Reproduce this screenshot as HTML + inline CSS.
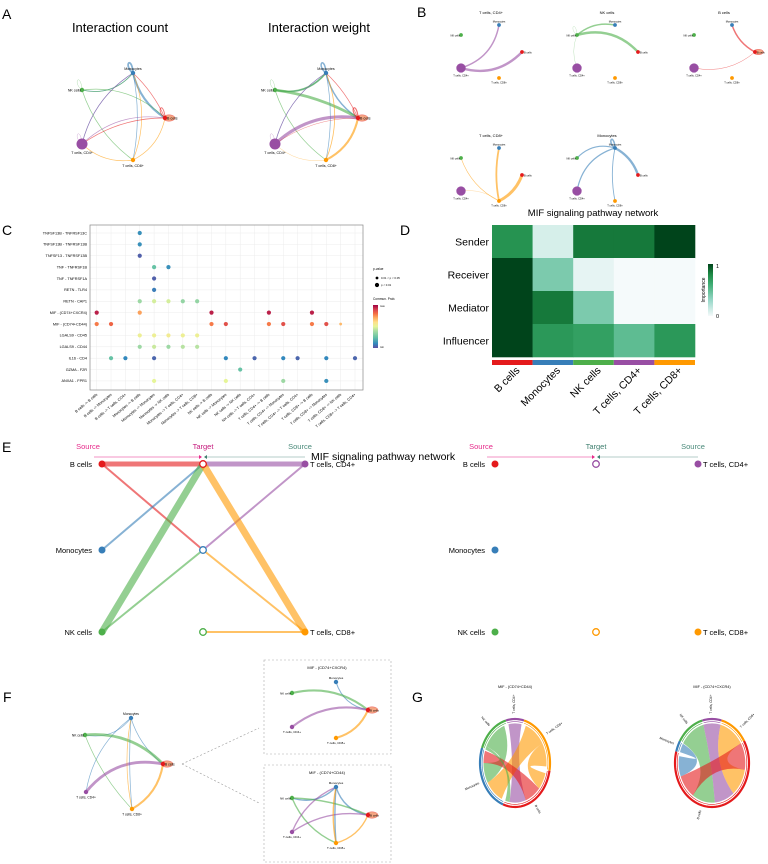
<!DOCTYPE html>
<html><head><meta charset="utf-8"><style>
html,body{margin:0;padding:0;background:#fff;}
svg{display:block;font-family:"Liberation Sans",sans-serif;}
</style></head><body>
<svg id="fig" width="768" height="864" viewBox="0 0 768 864" xmlns="http://www.w3.org/2000/svg"></svg>
<script>
// ---------- data ----------
const cellNames = ['B cells','Monocytes','NK cells','T cells, CD4+','T cells, CD8+'];
const cellKeys = ['B','M','N','C4','C8'];
const cellColors = ['#e41a1c','#377eb8','#4daf4a','#984ea3','#ff9900'];
// Panel C
const lrPairs = ['TNFSF13B - TNFRSF13C','TNFSF13B - TNFRSF13B','TNFSF13 - TNFRSF13B','TNF - TNFRSF1B','TNF - TNFRSF1A','RETN - TLR4','RETN - CAP1','MIF - (CD74+CXCR4)','MIF - (CD74+CD44)','LGALS9 - CD45','LGALS9 - CD44','IL16 - CD4','GZMA - F2R','ANXA1 - FPR1'];
const pairCols = ['B cells -> B cells','B cells -> Monocytes','B cells -> T cells, CD4+','Monocytes -> B cells','Monocytes -> Monocytes','Monocytes -> NK cells','Monocytes -> T cells, CD4+','Monocytes -> T cells, CD8+','NK cells -> B cells','NK cells -> Monocytes','NK cells -> NK cells','NK cells -> T cells, CD4+','T cells, CD4+ -> B cells','T cells, CD4+ -> Monocytes','T cells, CD4+ -> T cells, CD4+','T cells, CD8+ -> B cells','T cells, CD8+ -> Monocytes','T cells, CD8+ -> NK cells','T cells, CD8+ -> T cells, CD4+'];
const dotRow = [0,1,2,3,3,4,5,6,6,6,6,6,7,7,7,7,7,8,8,8,8,8,8,8,8,8,9,9,9,9,9,10,10,10,10,10,11,11,11,11,11,11,11,11,11,12,13,13,13,13];
const dotCol = [3,3,3,4,5,4,4,3,4,5,6,7,0,3,8,12,15,0,1,8,9,12,13,15,16,17,3,4,5,6,7,3,4,5,6,7,1,2,4,9,11,13,14,16,18,10,4,9,13,16];
const dotProb = [0.12,0.12,0.03,0.25,0.12,0.03,0.08,0.37,0.47,0.47,0.35,0.35,0.95,0.72,0.95,0.95,0.95,0.78,0.82,0.78,0.86,0.78,0.86,0.78,0.86,0.68,0.53,0.53,0.55,0.53,0.53,0.37,0.45,0.37,0.42,0.42,0.25,0.1,0.04,0.1,0.04,0.1,0.04,0.1,0.04,0.25,0.5,0.5,0.37,0.12];
const dotSig = [1,1,1,1,1,1,1,1,1,1,1,1,1,1,1,1,1,1,1,1,1,1,1,1,1,0,1,1,1,1,1,1,1,1,1,1,1,1,1,1,1,1,1,1,1,1,1,1,1,1];
// Panel D
const roles = ['Sender','Receiver','Mediator','Influencer'];
const importSender = [0.75,0.1,0.85,0.85,1.0];
const importReceiver = [1.0,0.4,0.05,0.0,0.0];
const importMediator = [1.0,0.85,0.4,0.0,0.0];
const importInfluencer = [1.0,0.72,0.68,0.5,0.72];
// Panel A edges: from,to,weight,curvature
const countEdges = [['M','N',1.2,-0.15],['M','B',3,0.1],['M','C4',1,0.1],['M','C8',1,-0.05],['M','M',3,0],['N','M',1,0.15],['N','B',1,-0.12],['N','C8',1,0.08],['N','N',0.6,0],['C4','M',1,-0.1],['C4','B',1,-0.12],['C4','C4',0.6,0],['C8','M',1,0.1],['C8','B',1,0.12],['C8','C4',1,-0.12],['B','M',1,0.05],['B','C4',1,0.08],['B','B',1.5,0]];
const weightEdges = [['M','N',1.5,-0.15],['M','B',2.2,0.1],['M','C4',1,0.1],['M','C8',1,-0.05],['M','M',2.5,0],['N','M',2.5,0.15],['N','B',4,-0.05],['N','C8',1,0.08],['N','N',0.6,0],['C4','M',1,-0.1],['C4','B',4.5,-0.12],['C4','C4',0.6,0],['C8','M',1.2,0.1],['C8','B',3,0.12],['C8','C4',0.5,-0.12],['B','M',1,0.05],['B','C4',0.6,0.08],['B','B',2,0]];
// Panel B per-source edges
const bSources = ['C4','N','B','C8','M'];
const bEdges = [
 [['C4','M',2.5,0.15],['C4','B',4,0.15]],
 [['N','M',2.5,-0.12],['N','B',4,-0.15],['N','C4',0.5,0.1],['N','N',0.5,0]],
 [['B','M',2.5,-0.1],['B','C4',0.8,-0.12]],
 [['C8','N',1,-0.1],['C8','M',3,-0.05],['C8','B',5,0.1],['C8','C4',0.5,0.1]],
 [['M','N',2,0.15],['M','B',4,-0.1],['M','C4',2,0.15],['M','C8',1.5,0.05],['M','M',3,0]]
];
// Panel E edges (hierarchy): source key, target key, width
const eEdges = [['B','B',5],['C4','B',5],['B','M',2],['M','B',2],['N','B',7],['N','M',2],['C4','M',2],['C8','B',7],['C8','M',2],['C8','N',2]];
// Panel F edges
const fEdges = [['M','N',1,-0.15],['M','B',1,0.08],['M','C8',1,0.02],['M','C4',1,0.1],['N','B',4,-0.12],['N','C8',1,0.05],['C4','B',4,-0.15],['C8','B',3,0.12],['C8','M',1,-0.05]];
const fEdgesCXCR4 = [['M','B',1.5,0.15],['N','B',3,-0.12],['C4','B',3,-0.12],['C8','B',3,0.12]];
const fEdgesCD44 = [['M','N',2,-0.15],['M','B',2,0.15],['M','C8',2,0.02],['N','B',2,-0.05],['N','C8',2,0.1],['C4','M',2,-0.1],['C4','B',2,-0.1],['C8','M',2,-0.05],['C8','B',2,0.12]];
// Panel G chord sectors (start angle, end angle, cell) and ribbons
const chordSegs1=[[200,290,'M'],[290,345,'N'],[345,375,'C4'],[375,460,'C8'],[100,200,'B']];
const chordRib1=[[295,340,240,270,'N'],[348,372,160,190,'C4'],[380,420,205,240,'C8'],[420,455,105,130,'C8'],[130,160,270,288,'B'],[290,295,190,198,'N']];
const chordSegs2=[[285,300,'M'],[300,345,'N'],[345,375,'C4'],[375,420,'C8'],[60,285,'B']];
const chordRib2=[[286,299,250,280,'M'],[300,345,175,215,'N'],[345,375,140,175,'C4'],[375,420,100,140,'C8'],[60,100,215,250,'B']];

// ---------- helpers ----------
const NS='http://www.w3.org/2000/svg';
const svg=document.getElementById('fig');
function mk(tag,attrs,parent){const e=document.createElementNS(NS,tag);for(const k in attrs)e.setAttribute(k,attrs[k]);(parent||svg).appendChild(e);return e;}
function txt(s,x,y,size,attrs,parent){const e=mk('text',Object.assign({x:x,y:y,'font-size':size,fill:'#000'},attrs||{}),parent);e.textContent=s;return e;}
function colOf(k){return cellColors[cellKeys.indexOf(k)];}
function nameOf(k){return cellNames[cellKeys.indexOf(k)];}
function lerpC(stops,t){t=Math.max(0,Math.min(1,t));for(let i=1;i<stops.length;i++){if(t<=stops[i][0]){const a=stops[i-1],b=stops[i];const f=(t-a[0])/(b[0]-a[0]||1);const p=h=>[parseInt(h.substr(1,2),16),parseInt(h.substr(3,2),16),parseInt(h.substr(5,2),16)];const ca=p(a[1]),cb=p(b[1]);return 'rgb('+ca.map((v,j)=>Math.round(v+(cb[j]-v)*f)).join(',')+')';}}return stops[stops.length-1][1];}
const spectral=[[0,'#5e4fa2'],[0.1,'#3288bd'],[0.25,'#66c2a5'],[0.4,'#abdda4'],[0.5,'#e6f598'],[0.6,'#fee08b'],[0.7,'#fdae61'],[0.8,'#f46d43'],[0.9,'#d53e4f'],[1,'#9e0142']];
const greens=[[0,'#f5fafb'],[0.3,'#99d8c9'],[0.6,'#41ae76'],[0.8,'#1d8a45'],[1,'#00441b']];

function network(g,pos,edges,opt){
  opt=opt||{};const sc=opt.scale||1;
  edges.forEach(ed=>{
    const [f,t,w,c]=ed;const a=pos[f],b=pos[t];const col=colOf(f);
    let p;
    if(f===t){const r=6*sc;p=mk('path',{d:`M${a[0]},${a[1]} c ${-r*1.6},${-r*1.2} ${-r*0.4},${-r*3} 0,${-r*0.3}`,fill:'none',stroke:col,'stroke-width':w*sc*0.6,'stroke-opacity':0.6},g);
    } else {
      const mx=(a[0]+b[0])/2,my=(a[1]+b[1])/2,dx=b[0]-a[0],dy=b[1]-a[1];
      const cx=mx-dy*c*2,cy=my+dx*c*2;
      p=mk('path',{d:`M${a[0]},${a[1]} Q${cx},${cy} ${b[0]},${b[1]}`,fill:'none',stroke:col,'stroke-width':w*sc*0.7,'stroke-opacity':0.6},g);
    }
    
    
  });
  cellKeys.forEach(k=>{
    const [x,y]=pos[k];const big=(opt.bigNode===k);
    const r=(big?5.5:2.2)*sc;
    if(k==='B'&&opt.halo){const h=mk('ellipse',{cx:x+4*sc,cy:y,rx:6*sc,ry:3.2*sc,fill:'#f4a582',stroke:'#e66',"stroke-width":0.5},g);
      
      }
    const n=mk('circle',{cx:x,cy:y,r:r,fill:colOf(k)},g);
    
    
    const fs=opt.fs||4;
    let lx=x,ly=y,anc='middle';
    if(k==='M'){ly=y-3*sc;}else if(k==='N'){lx=x-1;ly=y+1.3;anc='end';}else if(k==='B'){lx=x+2;ly=y+1.3;anc='start';}else{ly=y+r+fs+1;}
    const l=txt(nameOf(k),lx,ly,fs,{'text-anchor':anc},g);
    
    
  });
}

// ---------- panel labels ----------
[['A',2,19],['B',417,17],['C',2,235],['D',400,235],['E',2,452],['F',3,702],['G',412,702]].forEach(([s,x,y])=>{const e=txt(s,x,y,14);
  
  });

// ---------- Panel A ----------
const gA=mk('g',{});


let t1=txt('Interaction count',120,32,13,{'text-anchor':'middle'},gA);


let t2=txt('Interaction weight',319,32,13,{'text-anchor':'middle'},gA);


function posAt(ox,oy,s){return {M:[ox+51*s,oy],N:[ox,oy+17*s],B:[ox+83*s,oy+45*s],C4:[ox,oy+71*s],C8:[ox+51*s,oy+87*s]};}
network(gA,posAt(82,73,1),countEdges,{halo:true,bigNode:'C4',fs:3.6});
network(gA,posAt(275,73,1),weightEdges,{halo:true,bigNode:'C4',fs:3.6});

// ---------- Panel B ----------
const gB=mk('g',{});


const bOrig=[[461,25],[577,25],[694,25],[461,148],[577,148]];
bSources.forEach((s,i)=>{
  const [ox,oy]=bOrig[i];const sg=mk('g',{},gB);
  
  
  const tt=txt(nameOf(s),ox+30,oy-11,4,{'text-anchor':'middle'},sg);
  
  
  const pos={M:[ox+38,oy],N:[ox,oy+10],B:[ox+61,oy+27],C4:[ox,oy+43],C8:[ox+38,oy+53]};
  network(sg,pos,bEdges[i],{halo:s==='B',bigNode:'C4',scale:0.85,fs:2.6});
});
let mt=txt('MIF signaling pathway network',593,216,9.5,{'text-anchor':'middle'});



// ---------- Panel C ----------
const gC=mk('g',{});


const cX0=90,cX1=363,cY0=225,cY1=390;
const xC=i=>96.7+i*14.35, yC=i=>233+i*11.38;
lrPairs.forEach((p,i)=>{const gl=mk('line',{x1:cX0,x2:cX1,y1:yC(i),y2:yC(i),stroke:'#ececec','stroke-width':0.5},gC);
  
  
  const l=txt(p,cX0-3,yC(i)+1.3,3.8,{'text-anchor':'end'},gC);
  
  });
pairCols.forEach((p,i)=>{const gl=mk('line',{x1:xC(i),x2:xC(i),y1:cY0,y2:cY1,stroke:'#ececec','stroke-width':0.5},gC);
  
  
  const l=txt(p,xC(i)+1,cY1+5,3.8,{'text-anchor':'end',transform:`rotate(-40 ${xC(i)+1} ${cY1+5})`},gC);
  
  });
const box=mk('rect',{x:cX0,y:cY0,width:cX1-cX0,height:cY1-cY0,fill:'none',stroke:'#888','stroke-width':0.7},gC);


dotRow.forEach((r,i)=>{const d=mk('circle',{cx:xC(dotCol[i]),cy:yC(r),r:dotSig[i]?2.1:1.4,fill:lerpC(spectral,dotProb[i])},gC);
  
  });
let pl=txt('p-value',373,270,3.2,{},gC);
[[278,1.4,'0.01 < p < 0.05'],[285,2.1,'p < 0.01']].forEach(([y,r,s])=>{const c=mk('circle',{cx:377,cy:y,r:r,fill:'#000'},gC);const l=txt(s,381,y+1,2.8,{},gC);});
let cl=txt('Commun. Prob.',373,300,3.2,{},gC);
const defs=mk('defs',{});
const lg=mk('linearGradient',{id:'spec',x1:0,y1:1,x2:0,y2:0},defs);
spectral.forEach(([o,c])=>mk('stop',{offset:o,'stop-color':c},lg));
const cb=mk('rect',{x:373,y:305,width:5,height:43,fill:'url(#spec)'},gC);
let mx=txt('max',380,307,2.5,{},gC);
let mn=txt('min',380,348,2.5,{},gC);

// ---------- Panel D ----------
const gD=mk('g',{});


const hX0=492,hW=40.6,hY0=225,hH=33;
const roleVals=[importSender,importReceiver,importMediator,importInfluencer];
roles.forEach((r,ri)=>{
  roleVals[ri].forEach((v,ci)=>{const c=mk('rect',{x:hX0+ci*hW,y:hY0+ri*hH,width:hW+0.3,height:hH+0.3,fill:lerpC(greens,v)},gD);
    
    });
  const l=txt(r,489,hY0+ri*hH+hH/2+4,10.5,{'text-anchor':'end'},gD);
  
  
});
cellNames.forEach((n,ci)=>{const s=mk('rect',{x:hX0+ci*hW,y:360,width:hW,height:5,fill:cellColors[ci]},gD);
  
  
  const cx=hX0+ci*hW+hW/2+8;
  const l=txt(n,cx,371,10.5,{'text-anchor':'end',transform:`rotate(-45 ${cx} 371)`},gD);
  
  });
const lg2=mk('linearGradient',{id:'grn',x1:0,y1:1,x2:0,y2:0},defs);
greens.forEach(([o,c])=>mk('stop',{offset:o,'stop-color':c},lg2));
const ib=mk('rect',{x:708,y:264,width:5,height:52,fill:'url(#grn)'},gD);
let i1=txt('1',716,268,5.5,{},gD);
let i0=txt('0',716,318,5.5,{},gD);
let it=txt('Importance',705,290,5,{'text-anchor':'middle',transform:'rotate(-90 705 290)'},gD);

// ---------- Panel E ----------
const gE=mk('g',{});


function hier(ox,withEdges,tKeys){
  const L=ox+102,T=ox+203,R=ox+305, ys=[464,550,632];
  [['Source',L-14,'#e7298a'],['Target',T,'#c51b7d'],['Source',R-5,'#4a8a7a']].forEach(([s,x,c],i)=>{const e=txt(s,x,449,7.5,{'text-anchor':'middle',fill:i==1&&ox>0?'#3f7f6f':c},gE);});
  const a1=mk('line',{x1:L-8,y1:457,x2:T-4,y2:457,stroke:'#e7298a','stroke-width':0.6},gE);
  mk('path',{d:`M${T-4},455 l3,2 l-3,2z`,fill:'#e7298a'},gE);
  const a2=mk('line',{x1:T+4,y1:457,x2:R,y2:457,stroke:'#6e9e92','stroke-width':0.6},gE);
  mk('path',{d:`M${T+4},455 l-3,2 l3,2z`,fill:'#3f7f6f'},gE);
  const lp={B:[L,ys[0]],M:[L,ys[1]],N:[L,ys[2]],C4:[R,ys[0]],C8:[R,ys[2]]};
  const tp={B:[T,ys[0]],M:[T,ys[1]],N:[T,ys[2]]};
  if(withEdges){eEdges.forEach(([s,t,w])=>{const a=lp[s],b=tp[t];const e=mk('line',{x1:a[0],y1:a[1],x2:b[0],y2:b[1],stroke:colOf(s),'stroke-width':w,'stroke-opacity':0.6},gE);
    
    });}
  ['B','M','N'].forEach((k,i)=>{const c=mk('circle',{cx:L,cy:ys[i],r:3.5,fill:colOf(k)},gE);
    const l=txt(nameOf(k),L-10,ys[i]+3,7.5,{'text-anchor':'end'},gE);});
  ['C4','C8'].forEach(k=>{const [x,y]=lp[k];const c=mk('circle',{cx:x,cy:y,r:3.5,fill:colOf(k)},gE);
    const l=txt(nameOf(k),x+5,y+3,7.5,{},gE);});
  tKeys.forEach((k,i)=>{if(!k)return;const c=mk('circle',{cx:T,cy:ys[i],r:3.3,fill:'#fff',stroke:colOf(k),'stroke-width':1.3},gE);});
}
hier(0,true,['B','M','N']);
hier(393,false,['C4',null,'C8']);
let et=txt('MIF signaling pathway network',311,460,10.5,{},gE);

// ---------- Panel F ----------
const gF=mk('g',{});


network(gF,{M:[131,718],N:[85,735],B:[163,764],C4:[86,792],C8:[132,809]},fEdges,{halo:true,fs:3.3});
[[182,764,259,728],[182,764,259,803]].forEach(([a,b,c,d])=>{const l=mk('line',{x1:a,y1:b,x2:c,y2:d,stroke:'#999','stroke-width':0.6,'stroke-dasharray':'2,2'},gF);});
[[264,660,'MIF - (CD74+CXCR4)',fEdgesCXCR4],[264,765,'MIF - (CD74+CD44)',fEdgesCD44]].forEach(([x,y,s,ed])=>{
  const r=mk('rect',{x:x,y:y,width:127,height:y<700?94:97,fill:'none',stroke:'#aaa','stroke-width':0.6,'stroke-dasharray':'2,2'},gF);
  
  
  const t=txt(s,x+63,y+9,4,{'text-anchor':'middle'},gF);
  
  
  const o=y+22;
  network(gF,{M:[336,o],N:[292,o+11],B:[368,o+28],C4:[292,o+45],C8:[336,o+56]},ed,{halo:true,fs:3});
});

// ---------- Panel G chords ----------
const gG=mk('g',{});


function chord(cx,cy,rx,ry,title,segs,ribbons,labels){
  const g=mk('g',{},gG);
  
  
  const t=txt(title,cx,688,3.8,{'text-anchor':'middle'},g);
  
  
  const P=(a,k)=>{const r=a*Math.PI/180;return [cx+rx*k*Math.sin(r),cy-ry*k*Math.cos(r)];};
  const arcPts=(a,b,k)=>{const pts=[];const st=(b-a)/Math.max(2,Math.ceil(Math.abs(b-a)/3));for(let d=a;st>0?d<=b+0.01:d>=b-0.01;d+=st)pts.push(P(d,k));return pts;};
  ribbons.forEach(([a1,a2,b1,b2,k])=>{
    const A=arcPts(a1,a2,0.9),B=arcPts(b1,b2,0.9);
    let d='M'+A.map(p=>p.join(',')).join(' L');
    d+=` Q${cx},${cy} ${B[0][0]},${B[0][1]} L`+B.map(p=>p.join(',')).join(' L');
    d+=` Q${cx},${cy} ${A[0][0]},${A[0][1]}Z`;
    const rb=mk('path',{d:d,fill:colOf(k),'fill-opacity':0.6},g);
    
    });
  segs.forEach(([a,b,k])=>{const pts=arcPts(a,b,1).map(p=>p.join(','));
    const s=mk('polyline',{points:pts.join(' '),fill:'none',stroke:colOf(k),'stroke-width':2.2},g);
    
    
    const pts2=arcPts(a+1,b-1,0.94).map(p=>p.join(','));
    const s2=mk('polyline',{points:pts2.join(' '),fill:'none',stroke:colOf(k),'stroke-width':0.6},g);
    
    });
  labels.forEach(([a,s])=>{const p=P(a,1.12);let rot=a-90;const an=((a%360)+360)%360;if(an>180)rot=an-270;else rot=an-90;
    const l=txt(s,p[0],p[1],3.2,{'text-anchor':an>180?'end':'start',transform:`rotate(${rot} ${p[0]} ${p[1]})`},g);
    
    });
}
chord(515,763,35,44,'MIF - (CD74+CD44)',chordSegs1,chordRib1,
  [[318,'NK cells'],[0,'T cells, CD4+'],[55,'T cells, CD8+'],[150,'B cells'],[245,'Monocytes']]);
chord(712,763,37,44,'MIF - (CD74+CXCR4)',chordSegs2,chordRib2,
  [[292,'Monocytes'],[322,'NK cells'],[0,'T cells, CD4+'],[45,'T cells, CD8+'],[195,'B cells']]);
</script>
</body></html>
